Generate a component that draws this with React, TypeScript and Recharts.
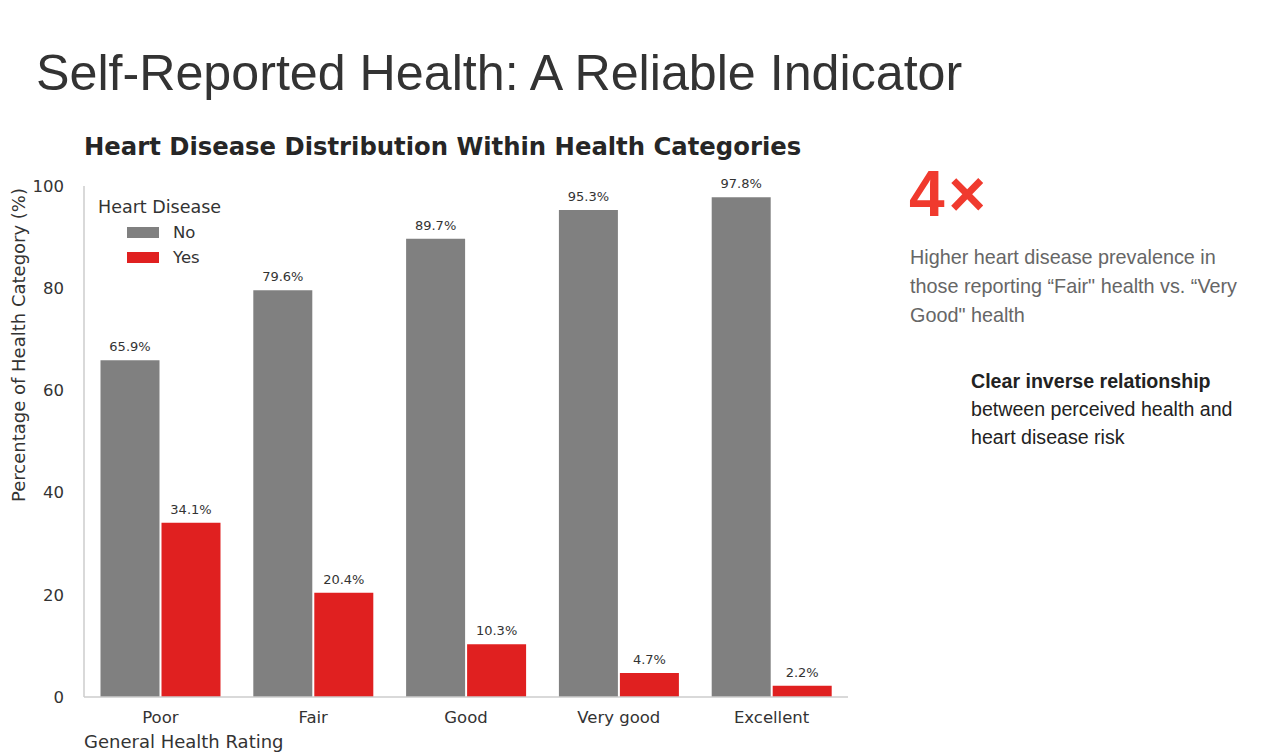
import { BarChart, Bar, XAxis, YAxis, LabelList } from 'recharts';

const categories = ['Poor', 'Fair', 'Good', 'Very good', 'Excellent'];
const noValues = [65.9, 79.6, 89.7, 95.3, 97.8];
const yesValues = [34.1, 20.4, 10.3, 4.7, 2.2];
const yTicks = [0, 20, 40, 60, 80, 100];

const data = categories.map((c, i) => ({ name: c, No: noValues[i], Yes: yesValues[i] }));

const GRAY = '#808080';
const RED = '#e02020';
const chartFont = '"DejaVu Sans", sans-serif';
const slideFont = '"Liberation Sans", Arial, sans-serif';

// legend drawn by hand, the plot keeps its full height
const LegendBox = () => (
  <div style={{ position: 'absolute', left: 98, top: 197, fontFamily: chartFont, color: '#333', fontSize: 17.5 }}>
    <div style={{ marginBottom: 3 }}>Heart Disease</div>
    {[['No', GRAY], ['Yes', RED]].map(([label, color]) => (
      <div key={label} style={{ display: 'flex', alignItems: 'center', height: 25, marginLeft: 29 }}>
        <span style={{ display: 'inline-block', width: 32, height: 11, background: color, marginRight: 14 }} />
        <span style={{ fontSize: 16.5 }}>{label}</span>
      </div>
    ))}
  </div>
);

export default function App() {
  return (
    <div style={{ position: 'absolute', left: 0, top: 0, width: 1261, height: 752, background: '#fff', overflow: 'hidden' }}>
      <div style={{ position: 'absolute', left: 36, top: 44, fontFamily: slideFont, fontSize: 50.2, color: '#333', whiteSpace: 'nowrap' }}>
        Self-Reported Health: A Reliable Indicator
      </div>

      <div style={{ position: 'absolute', left: 84, top: 132, fontFamily: chartFont, fontSize: 24.3, fontWeight: 'bold', color: '#262626', whiteSpace: 'nowrap' }}>
        Heart Disease Distribution Within Health Categories
      </div>

      <div style={{ position: 'absolute', left: 0, top: 0 }}>
        <BarChart
          width={880}
          height={752}
          data={data}
          margin={{ top: 186, right: 32, left: 24, bottom: 25 }}
          barCategoryGap="10.8%"
          barGap={2}
        >
          <XAxis
            dataKey="name"
            axisLine={{ stroke: '#cccccc', strokeWidth: 1.5 }}
            tickLine={false}
            tick={{ fontSize: 16.5, fill: '#333', fontFamily: chartFont }}
            tickMargin={8}
            height={30}
          />
          <YAxis
            domain={[0, 100]}
            ticks={yTicks}
            axisLine={{ stroke: '#cccccc', strokeWidth: 1.5 }}
            tickLine={false}
            tick={{ fontSize: 16.5, fill: '#333', fontFamily: chartFont }}
            tickMargin={14}
            width={60}
          />
          <Bar dataKey="No" fill={GRAY} isAnimationActive={false}>
            <LabelList
              dataKey="No"
              position="top"
              offset={9}
              formatter={(v: number) => `${v.toFixed(1)}%`}
              style={{ fontSize: 13, fill: '#333', fontFamily: chartFont }}
            />
          </Bar>
          <Bar dataKey="Yes" fill={RED} isAnimationActive={false}>
            <LabelList
              dataKey="Yes"
              position="top"
              offset={9}
              formatter={(v: number) => `${v.toFixed(1)}%`}
              style={{ fontSize: 13, fill: '#333', fontFamily: chartFont }}
            />
          </Bar>
        </BarChart>
      </div>

      <LegendBox />

      {/* y axis title, sits above the plot centre as in the original */}
      <div
        style={{
          position: 'absolute',
          left: 18,
          top: 345,
          width: 0,
          height: 0,
          display: 'flex',
          alignItems: 'center',
          justifyContent: 'center',
          transform: 'rotate(-90deg)',
        }}
      >
        <span style={{ fontFamily: chartFont, fontSize: 18, color: '#333', whiteSpace: 'nowrap' }}>
          Percentage of Health Category (%)
        </span>
      </div>

      <div style={{ position: 'absolute', left: 84, top: 731, fontFamily: chartFont, fontSize: 18, color: '#333', whiteSpace: 'nowrap' }}>
        General Health Rating
      </div>

      <div style={{ position: 'absolute', left: 909, top: 159, fontFamily: slideFont, fontSize: 64, fontWeight: 'bold', color: '#f03a2e', lineHeight: 1.1, letterSpacing: 4 }}>
        4×
      </div>
      <div style={{ position: 'absolute', left: 910, top: 243, width: 335, fontFamily: slideFont, fontSize: 19.8, color: '#666', lineHeight: '29px' }}>
        Higher heart disease prevalence in those reporting “Fair" health vs. “Very Good" health
      </div>
      <div style={{ position: 'absolute', left: 971, top: 367, width: 280, fontFamily: slideFont, fontSize: 19.6, color: '#222', lineHeight: '28px' }}>
        <b>Clear inverse relationship</b>
        <br />
        between perceived health and heart disease risk
      </div>
    </div>
  );
}
